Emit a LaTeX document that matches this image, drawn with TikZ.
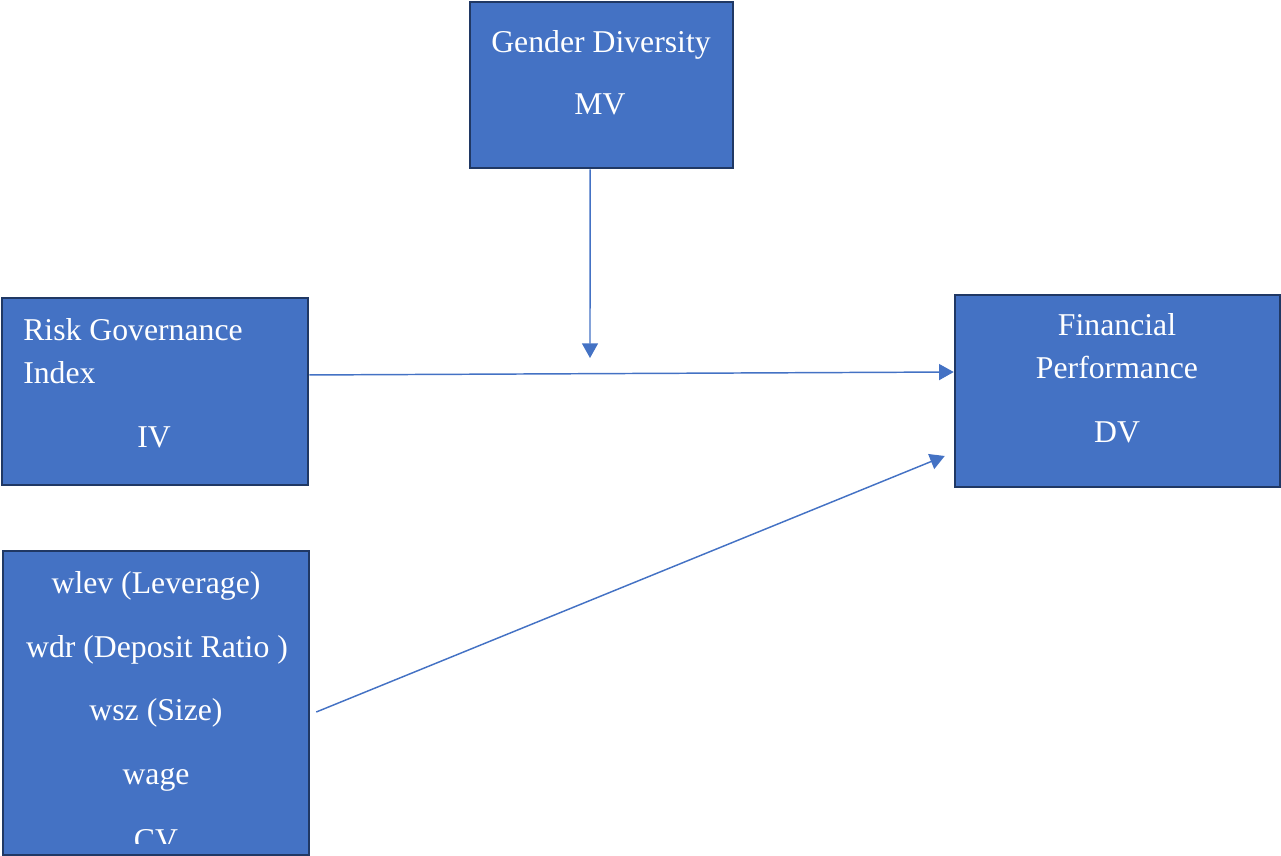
\documentclass[tikz,border=0pt]{standalone}
\usepackage{fontspec}
\setmainfont{Liberation Serif}
\usetikzlibrary{arrows.meta, positioning}
\definecolor{boxblue}{RGB}{68,114,196}
\definecolor{boxedge}{RGB}{32,56,100}

\begin{document}
\begin{tikzpicture}[x=0.75pt, y=-0.75pt,
  var/.style={rectangle, draw=boxedge, fill=boxblue, line width=1.9pt, inner sep=0pt},
  vtext/.style={text=white, font=\fontsize{23.8pt}{28pt}\selectfont, inner sep=0pt, anchor=base},
  arrow/.style={-{Triangle[length=11pt, width=12pt]}, line width=1.1pt, boxblue}
]
\useasboundingbox (0,0) rectangle (1281,856);

\node[var, minimum width=197.25pt, minimum height=124.5pt] (mv) at (601.5,85)  {};
\node[var, minimum width=229.5pt,  minimum height=140.25pt] (iv) at (155,391.5) {};
\node[var, minimum width=243.75pt, minimum height=144pt]    (dv) at (1117.5,391) {};
\node[var, minimum width=229.5pt,  minimum height=228pt]    (cv) at (156,703)   {};

\node[vtext] (mvname) at (601,53)  {Gender Diversity};
\node[vtext] (mvtag)  at (600,114) {MV};

\node[vtext, anchor=base west] (ivname)  at (23,340) {Risk Governance};
\node[vtext, anchor=base west] (ivname2) at (23,383) {Index};
\node[vtext] (ivtag) at (154,447) {IV};

\node[vtext] (dvname)  at (1117,335) {Financial};
\node[vtext] (dvname2) at (1117,378) {Performance};
\node[vtext] (dvtag)   at (1117,442) {DV};

\begin{scope}
  \clip (3,551) rectangle (309,843);
  \node[vtext] (cvlev)  at (156,593) {wlev (Leverage)};
  \node[vtext] (cvdr)   at (157,657) {wdr (Deposit Ratio )};
  \node[vtext] (cvsz)   at (156,720) {wsz (Size)};
  \node[vtext] (cvage)  at (156,784) {wage};
  \node[vtext] (cvtag)  at (156,850) {CV};
\end{scope}

\coordinate (mvend) at (590,358);

\draw[arrow] ([xshift=-8.6pt]mv.south) -- (mvend);
\draw[arrow] ([yshift=12.4pt]iv.east) -- ([yshift=14.25pt]dv.west);
\draw[arrow] ([xshift=4.5pt,yshift=-6.75pt]cv.east) -- ([xshift=-6.75pt,yshift=-48.75pt]dv.west);
\end{tikzpicture}
\end{document}
